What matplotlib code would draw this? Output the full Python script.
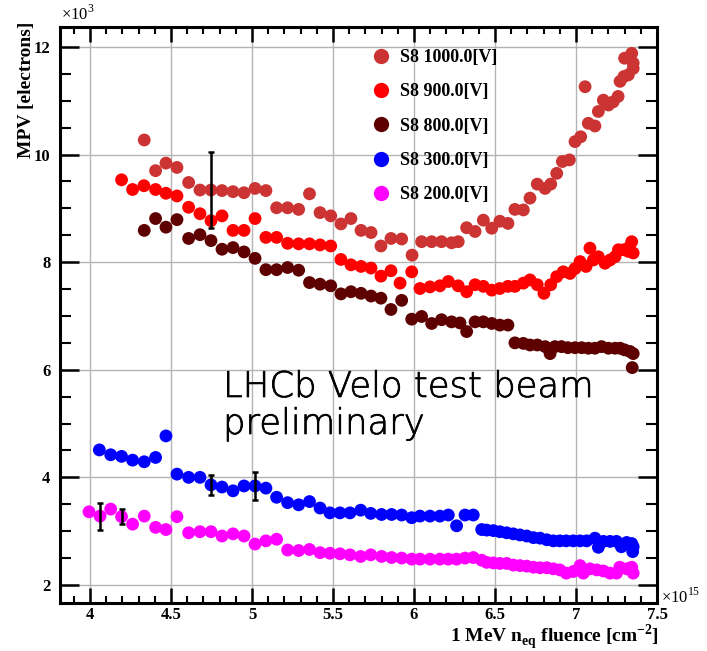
import matplotlib
matplotlib.use("Agg")
import matplotlib.pyplot as plt
import matplotlib.patheffects as pe
from matplotlib.ticker import MultipleLocator, FixedLocator, FuncFormatter
from matplotlib.lines import Line2D

# ---------------- data (fluence in 1e15 cm^-2, MPV in 1e3 electrons) -------------
x1000 = [4.335, 4.405, 4.469, 4.537, 4.609, 4.679, 4.747, 4.815, 4.883, 4.951, 5.019, 5.086, 5.152,
         5.220, 5.288, 5.355, 5.420, 5.486, 5.549, 5.611, 5.673, 5.735, 5.796, 5.858, 5.924, 5.988,
         6.047, 6.109, 6.170, 6.232, 6.273, 6.325, 6.377, 6.428, 6.480, 6.530, 6.580, 6.623, 6.675,
         6.716, 6.761, 6.809, 6.844, 6.881, 6.916, 6.959, 6.994, 7.029, 7.056, 7.076, 7.117, 7.138,
         7.169, 7.200, 7.230, 7.260, 7.272, 7.296, 7.300, 7.323, 7.344, 7.353, 7.353]
y1000 = [10.27, 9.70, 9.84, 9.76, 9.48, 9.34, 9.34, 9.33, 9.31, 9.29, 9.37, 9.33, 9.01,
         9.01, 8.98, 9.27, 8.92, 8.86, 8.71, 8.81, 8.59, 8.55, 8.30, 8.44, 8.43, 8.13,
         8.38, 8.38, 8.38, 8.36, 8.38, 8.64, 8.57, 8.78, 8.63, 8.76, 8.72, 8.98, 8.97,
         9.19, 9.45, 9.37, 9.45, 9.65, 9.87, 9.90, 10.24, 10.33, 11.26, 10.58, 10.53, 10.80,
         11.01, 10.92, 10.98, 11.08, 11.36, 11.45, 11.79, 11.48, 11.88, 11.70, 11.60]

x900 = [4.195, 4.263, 4.333, 4.405, 4.469, 4.537, 4.609, 4.679, 4.747, 4.815, 4.883, 4.951, 5.019,
        5.086, 5.152, 5.220, 5.288, 5.355, 5.420, 5.486, 5.549, 5.611, 5.673, 5.735, 5.796, 5.858,
        5.914, 5.986, 6.037, 6.099, 6.160, 6.212, 6.273, 6.325, 6.377, 6.428, 6.480, 6.530, 6.580,
        6.623, 6.675, 6.716, 6.761, 6.802, 6.844, 6.881, 6.921, 6.963, 6.994, 7.025, 7.062, 7.086,
        7.107, 7.138, 7.179, 7.210, 7.241, 7.262, 7.293, 7.323, 7.330, 7.344, 7.353]
y900 = [9.53, 9.35, 9.42, 9.35, 9.28, 9.23, 9.02, 8.90, 8.77, 8.86, 8.59, 8.59, 8.81,
        8.46, 8.46, 8.35, 8.34, 8.34, 8.32, 8.30, 8.05, 7.95, 7.92, 7.89, 7.74, 7.84,
        7.61, 7.82, 7.51, 7.54, 7.56, 7.64, 7.56, 7.45, 7.58, 7.55, 7.48, 7.51, 7.55,
        7.55, 7.61, 7.67, 7.58, 7.42, 7.58, 7.73, 7.82, 7.79, 7.88, 8.01, 7.92, 8.26,
        8.04, 8.10, 7.98, 8.04, 8.10, 8.23, 8.23, 8.20, 8.28, 8.38, 8.17]

x800 = [4.335, 4.405, 4.469, 4.537, 4.609, 4.679, 4.747, 4.815, 4.883, 4.951, 5.019, 5.086, 5.152,
        5.220, 5.288, 5.355, 5.420, 5.486, 5.549, 5.611, 5.673, 5.735, 5.796, 5.858, 5.924, 5.986,
        6.047, 6.109, 6.170, 6.232, 6.284, 6.325, 6.377, 6.428, 6.480, 6.530, 6.580, 6.623, 6.675,
        6.716, 6.761, 6.809, 6.840, 6.870, 6.910, 6.950, 6.994, 7.035, 7.076, 7.117, 7.158, 7.200,
        7.241, 7.272, 7.300, 7.333, 7.353, 7.347]
y800 = [8.59, 8.81, 8.65, 8.79, 8.44, 8.51, 8.40, 8.24, 8.27, 8.19, 8.07, 7.86, 7.86,
        7.90, 7.85, 7.62, 7.59, 7.56, 7.41, 7.45, 7.42, 7.37, 7.33, 7.12, 7.29, 6.94,
        6.99, 6.86, 6.93, 6.89, 6.87, 6.71, 6.89, 6.89, 6.86, 6.83, 6.83, 6.50, 6.49,
        6.46, 6.46, 6.43, 6.30, 6.43, 6.43, 6.41, 6.41, 6.41, 6.40, 6.40, 6.43, 6.40,
        6.40, 6.40, 6.37, 6.34, 6.30, 6.04]

x300 = [4.058, 4.128, 4.195, 4.263, 4.335, 4.405, 4.469, 4.537, 4.609, 4.679, 4.747, 4.815, 4.883,
        4.951, 5.019, 5.086, 5.152, 5.220, 5.288, 5.355, 5.420, 5.481, 5.543, 5.605, 5.671, 5.733,
        5.800, 5.862, 5.924, 5.986, 6.037, 6.099, 6.160, 6.212, 6.263, 6.315, 6.366, 6.418, 6.449,
        6.490, 6.530, 6.572, 6.613, 6.654, 6.696, 6.737, 6.778, 6.820, 6.860, 6.900, 6.940, 6.983,
        7.025, 7.066, 7.117, 7.138, 7.169, 7.210, 7.250, 7.280, 7.313, 7.344, 7.350, 7.353]
y300 = [4.51, 4.42, 4.39, 4.32, 4.29, 4.37, 4.77, 4.06, 4.00, 4.00, 3.86, 3.82, 3.75,
        3.84, 3.84, 3.80, 3.63, 3.53, 3.49, 3.55, 3.43, 3.34, 3.34, 3.34, 3.39, 3.33,
        3.31, 3.31, 3.30, 3.25, 3.28, 3.28, 3.28, 3.30, 3.10, 3.30, 3.30, 3.03, 3.02,
        3.01, 2.99, 2.97, 2.95, 2.93, 2.91, 2.88, 2.87, 2.84, 2.82, 2.82, 2.82, 2.82,
        2.82, 2.82, 2.87, 2.70, 2.81, 2.81, 2.81, 2.71, 2.79, 2.77, 2.62, 2.71]

x200 = [3.994, 4.062, 4.128, 4.195, 4.263, 4.335, 4.405, 4.469, 4.537, 4.609, 4.679, 4.747, 4.815,
        4.883, 4.951, 5.019, 5.086, 5.152, 5.220, 5.288, 5.355, 5.420, 5.481, 5.543, 5.605, 5.671,
        5.733, 5.800, 5.862, 5.924, 5.986, 6.037, 6.099, 6.160, 6.212, 6.263, 6.315, 6.366, 6.418,
        6.449, 6.490, 6.530, 6.572, 6.613, 6.654, 6.696, 6.737, 6.778, 6.820, 6.860, 6.900, 6.940,
        6.983, 7.025, 7.045, 7.086, 7.128, 7.169, 7.210, 7.250, 7.270, 7.313, 7.344, 7.353]
y200 = [3.36, 3.28, 3.41, 3.27, 3.13, 3.28, 3.07, 3.03, 3.27, 2.97, 2.99, 2.99, 2.91,
        2.95, 2.91, 2.76, 2.82, 2.85, 2.65, 2.64, 2.66, 2.60, 2.59, 2.58, 2.56, 2.53,
        2.56, 2.53, 2.51, 2.50, 2.48, 2.48, 2.48, 2.48, 2.48, 2.48, 2.50, 2.51, 2.46,
        2.42, 2.41, 2.40, 2.40, 2.37, 2.36, 2.35, 2.33, 2.32, 2.32, 2.30, 2.28, 2.22,
        2.25, 2.36, 2.22, 2.30, 2.28, 2.26, 2.22, 2.22, 2.33, 2.30, 2.33, 2.22]

# error bars shown on a few points: (series index, error)
err1000_idx, err1000_val = [6], [0.71]
err300_idx, err300_val = [10, 14], [0.18, 0.26]
err200_idx, err200_val = [1, 3], [0.25, 0.14]

labels = ["S8 1000.0[V]", "S8 900.0[V]", "S8 800.0[V]", "S8 300.0[V]", "S8 200.0[V]"]
colors = ["#CC3333", "#FF0000", "#5E0000", "#0000FF", "#FF00FF"]

x_ticks = [4, 4.5, 5, 5.5, 6, 6.5, 7, 7.5]
y_ticks = [2, 4, 6, 8, 10, 12]

# ---------------- figure ----------------
plt.rcParams['mathtext.fontset'] = 'custom'
plt.rcParams['mathtext.rm'] = 'Liberation Serif'
plt.rcParams['mathtext.bf'] = 'Liberation Serif:bold'
serif = 'Liberation Serif'

W, H = 707, 651
fig = plt.figure(figsize=(W / 100, H / 100), dpi=100)
ax = fig.add_axes([60 / W, 1 - 603 / H, (657 - 60) / W, (603 - 27) / H])

series = [(x1000, y1000), (x900, y900), (x800, y800), (x300, y300), (x200, y200)]
handles = []
for (xs, ys), c, lab in zip(series, colors, labels):
    ax.scatter(xs, ys, s=85, color=c, edgecolors='none', zorder=3)
    handles.append(Line2D([], [], linestyle='none', marker='o', markersize=11,
                          markerfacecolor=c, markeredgecolor='none', label=lab))

for (xs, ys), idx, ev in [((x1000, y1000), err1000_idx, err1000_val),
                          ((x300, y300), err300_idx, err300_val),
                          ((x200, y200), err200_idx, err200_val)]:
    ax.errorbar([xs[i] for i in idx], [ys[i] for i in idx], yerr=ev, fmt='none',
                ecolor='black', elinewidth=1.8, capsize=2.5, capthick=1.8, zorder=4)

ax.set_xlim(3.815, 7.5)
ax.set_ylim(1.665, 12.37)

ax.xaxis.set_major_locator(FixedLocator(x_ticks))
ax.xaxis.set_minor_locator(MultipleLocator(0.1))
ax.yaxis.set_major_locator(FixedLocator(y_ticks))
ax.yaxis.set_minor_locator(MultipleLocator(0.5))
ax.xaxis.set_major_formatter(FuncFormatter(lambda v, p: ('%g' % v)))
ax.yaxis.set_major_formatter(FuncFormatter(lambda v, p: ('%g' % v)))

ax.grid(True, which='major', color='#b4b4b4', linewidth=1.0, zorder=0)
ax.set_axisbelow(True)

for sp in ax.spines.values():
    sp.set_linewidth(2.2)
    sp.set_color('black')

ax.tick_params(axis='x', which='major', direction='in', length=11, width=1.8,
               top=True, bottom=True, pad=3)
ax.tick_params(axis='x', which='minor', direction='in', length=5, width=1.5,
               top=True, bottom=True)
ax.tick_params(axis='y', which='major', direction='in', length=14, width=1.8,
               left=True, right=True, pad=7)
ax.tick_params(axis='y', which='minor', direction='in', length=8, width=1.5,
               left=True, right=True)
for lab in ax.get_xticklabels() + ax.get_yticklabels():
    lab.set_fontfamily(serif)
    lab.set_fontweight('bold')
    lab.set_fontsize(12)

# axis titles
fig.text(26 / W, 1 - 22 / H, 'MPV [electrons]', rotation=90, ha='center', va='top',
         fontfamily=serif, fontweight='bold', fontsize=14)
fig.text(659 / W, 1 - 643 / H, r'1 MeV n$_{\mathbf{eq}}$ fluence [cm$^{\mathbf{-2}}$]',
         ha='right', va='baseline', fontfamily=serif, fontweight='bold', fontsize=14)
fig.text(61 / W, 1 - 20 / H, r'$\times10^{3}$', ha='left', va='baseline',
         fontfamily=serif, fontsize=12)
fig.text(661 / W, 1 - 603 / H, r'$\times10^{15}$', ha='left', va='baseline',
         fontfamily=serif, fontsize=12)

# annotation
thick = [pe.withStroke(linewidth=0.5, foreground='black')]
fig.text(223 / W, 1 - 397 / H, 'LHCb Velo test beam', ha='left', va='baseline',
         fontfamily='DejaVu Sans', fontweight='light', fontsize=25.5, color='black',
         path_effects=thick)
fig.text(223 / W, 1 - 434 / H, 'preliminary', ha='left', va='baseline',
         fontfamily='DejaVu Sans', fontweight='light', fontsize=25.5, color='black',
         path_effects=thick)

leg = ax.legend(handles=handles, loc='upper left', bbox_to_anchor=(361 / W, 1 - 38 / H),
                bbox_transform=fig.transFigure, frameon=False, handlelength=1.0,
                handletextpad=0.55, labelspacing=0.96, borderpad=0.1,
                prop={'family': serif, 'weight': 'bold', 'size': 13})

fig.savefig('out.png', dpi=100)
